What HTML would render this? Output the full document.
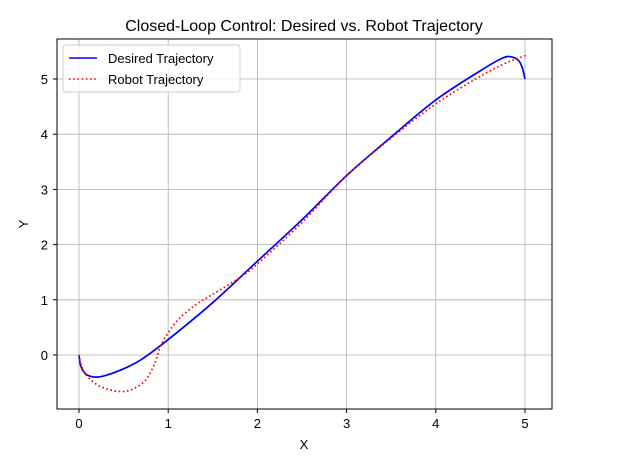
<!DOCTYPE html>
<html><head><meta charset="utf-8"><style>
body{margin:0;background:#fff;}
svg text{font-family:"Liberation Sans","DejaVu Sans",sans-serif;}
</style></head><body>
<svg id="chart" width="640" height="461" viewBox="0 0 640 461" xmlns="http://www.w3.org/2000/svg">
<rect width="640" height="461" fill="#fff"/>
<text x="304" y="31" font-size="16" text-anchor="middle">Closed-Loop Control: Desired vs. Robot Trajectory</text>
<g id="grid"></g>
<g id="series"></g>
<rect x="57" y="39" width="495" height="370" fill="none" stroke="#000" stroke-width="1"/>
<g id="ticks"></g>
<text x="304" y="449" font-size="13" text-anchor="middle">X</text>
<text x="28" y="224" font-size="13" text-anchor="middle" transform="rotate(-90 28 224)">Y</text>
<g>
<rect x="63" y="45" width="177" height="47" rx="3" fill="#fff" fill-opacity="0.8" stroke="#ccc"/>
<line x1="69" y1="58" x2="97" y2="58" stroke="#0000ff" stroke-width="1.6"/>
<text x="108" y="63" font-size="13">Desired Trajectory</text>
<line x1="69" y1="79" x2="97" y2="79" stroke="#ff0000" stroke-width="1.6" stroke-dasharray="1.6,2.6"/>
<text x="108" y="84" font-size="13">Robot Trajectory</text>
</g>
</svg>
<script>
const xTicks=[0,1,2,3,4,5];
const yTicks=[0,1,2,3,4,5];
const desiredX=[0,0.02,0.08,0.18,0.3,0.5,0.7,1.0,1.5,2,2.5,3,3.5,4,4.5,4.75,4.85,4.93,4.97,5.0];
const desiredY=[0,-0.2,-0.35,-0.4,-0.37,-0.25,-0.08,0.28,0.95,1.7,2.45,3.25,3.95,4.62,5.15,5.38,5.4,5.33,5.2,5.0];
const robotX=[0,0.03,0.1,0.25,0.45,0.6,0.75,0.85,0.9,0.96,1.1,1.3,1.5,1.8,2,2.5,3,3.5,4,4.5,4.8,5.0,5.03];
const robotY=[0,-0.2,-0.4,-0.58,-0.66,-0.62,-0.45,-0.15,0.1,0.3,0.62,0.9,1.1,1.4,1.65,2.4,3.25,3.93,4.55,5.05,5.3,5.42,5.43];
const NS="http://www.w3.org/2000/svg";
const sx=v=>79+v*89.2, sy=v=>355-v*55.2;
const grid=document.getElementById('grid'), ticks=document.getElementById('ticks'), ser=document.getElementById('series');
function mk(tag,attrs,parent){const e=document.createElementNS(NS,tag);for(const k in attrs)e.setAttribute(k,attrs[k]);parent.appendChild(e);return e;}
xTicks.forEach(t=>{
  const g=mk('line',{x1:sx(t),x2:sx(t),y1:39,y2:409,stroke:'#b0b0b0','stroke-width':0.8},grid);
  
  
  const tk=mk('line',{x1:sx(t),x2:sx(t),y1:409,y2:413,stroke:'#000'},ticks);
  
  
  const tx=mk('text',{x:sx(t),y:428,'font-size':13,'text-anchor':'middle'},ticks);tx.textContent=t;
  
  
});
yTicks.forEach(t=>{
  const g=mk('line',{x1:57,x2:552,y1:sy(t),y2:sy(t),stroke:'#b0b0b0','stroke-width':0.8},grid);
  
  
  const tk=mk('line',{x1:53,x2:57,y1:sy(t),y2:sy(t),stroke:'#000'},ticks);
  
  
  const tx=mk('text',{x:48,y:sy(t)+5,'font-size':13,'text-anchor':'end'},ticks);tx.textContent=t;
  
  
});
function smooth(xs,ys){
  const p=xs.map((x,i)=>[sx(x),sy(ys[i])]);
  let d='M'+p[0][0]+','+p[0][1];
  for(let i=0;i<p.length-1;i++){
    const p0=p[Math.max(0,i-1)],p1=p[i],p2=p[i+1],p3=p[Math.min(p.length-1,i+2)];
    const c1=[p1[0]+(p2[0]-p0[0])/6,p1[1]+(p2[1]-p0[1])/6];
    const c2=[p2[0]-(p3[0]-p1[0])/6,p2[1]-(p3[1]-p1[1])/6];
    d+=' C'+c1.join(',')+' '+c2.join(',')+' '+p2.join(',');
  }
  return d;
}
const d=mk('path',{d:smooth(desiredX,desiredY),fill:'none',stroke:'#0000ff','stroke-width':1.7,'stroke-linejoin':'round'},ser);


const r=mk('path',{d:smooth(robotX,robotY),fill:'none',stroke:'#ff0000','stroke-width':1.7,'stroke-dasharray':'1.6,2.6'},ser);


</script>
</body></html>
